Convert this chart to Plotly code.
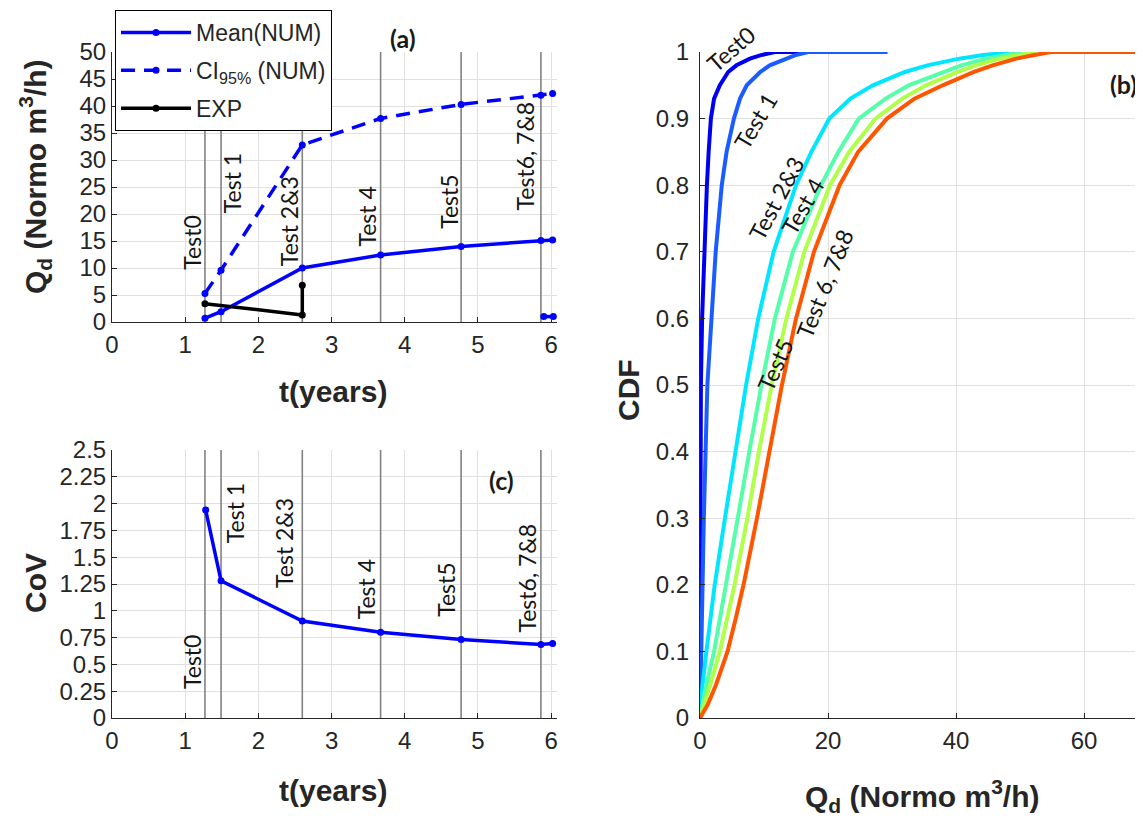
import plotly.graph_objects as go

# page body adds an 8px margin; figure fills the remaining window
OFF = 8
W, H = 1143 - OFF, 820 - OFF

# ---------------- Panel (a) / (c) data ----------------
test_times = [1.27, 1.49, 2.6, 3.67, 4.77, 5.86]
test_labels = ["Test0", "Test 1", "Test 2&3", "Test 4", "Test5", "Test6, 7&8"]

t_num = [1.27, 1.49, 2.6, 3.67, 4.77, 5.86, 6.02]
mean_num = [0.7, 1.9, 10.0, 12.4, 14.0, 15.1, 15.2]
ci95_num = [5.3, 9.6, 32.8, 37.7, 40.3, 42.0, 42.3]
t_low = [5.9, 6.03]
low_num = [1.0, 1.0]
t_exp = [1.27, 2.6, 2.6]
q_exp = [3.4, 1.3, 6.8]

t_cov = [1.28, 1.49, 2.6, 3.67, 4.77, 5.86, 6.02]
cov_num = [1.94, 1.28, 0.905, 0.80, 0.733, 0.686, 0.695]

label_a_t = [1.1, 1.64, 2.42, 3.49, 4.6, 5.64]
label_a_q = [14.6, 25.7, 18.7, 19.6, 22.2, 30.8]
label_c_t = [1.09, 1.68, 2.36, 3.47, 4.57, 5.67]
label_c_v = [0.52, 1.91, 1.63, 1.2, 1.2, 1.31]

a_yticks = [0, 5, 10, 15, 20, 25, 30, 35, 40, 45, 50]
c_yticks = [0, 0.25, 0.5, 0.75, 1, 1.25, 1.5, 1.75, 2, 2.25, 2.5]
c_yticktext = ["0", "0.25", "0.5", "0.75", "1", "1.25", "1.5", "1.75", "2", "2.25", "2.5"]
t_ticks = [0, 1, 2, 3, 4, 5, 6]

# ---------------- Panel (b) data ----------------
cdf_levels = [0, 0.02, 0.05, 0.1, 0.15, 0.2, 0.3, 0.4, 0.5, 0.6, 0.7, 0.8, 0.85,
              0.9, 0.93, 0.95, 0.97, 0.98, 0.99, 0.995, 1.0]
q_test0 = [0, 0.005, 0.01, 0.02, 0.03, 0.04, 0.06, 0.09, 0.14, 0.33, 0.65, 1.08, 1.35,
           1.7, 2.2, 3.1, 4.4, 5.7, 7.8, 9.4, 11.7]
q_test1 = [0, 0.05, 0.12, 0.26, 0.33, 0.4, 0.6, 0.8, 1.15, 1.8, 2.45, 3.4, 4.15,
           5.3, 6.25, 7.3, 9.4, 10.9, 13.3, 14.8, 16.9]
q_test23 = [0, 0.15, 0.4, 1.0, 1.65, 2.3, 3.9, 5.5, 7.2, 9.1, 11.5, 15.0, 17.4,
            20.2, 23.5, 27.0, 32.0, 35.5, 40.5, 44.0, 48.5]
q_test4 = [0, 0.4, 1.0, 2.2, 3.15, 4.1, 5.9, 7.7, 9.6, 11.7, 14.5, 18.9, 21.6,
           24.8, 29.0, 32.6, 37.8, 40.8, 44.7, 47.5, 50.5]
q_test5 = [0, 0.7, 1.6, 3.1, 4.3, 5.4, 7.4, 9.2, 11.2, 13.5, 16.3, 20.3, 23.3,
           27.4, 31.6, 35.3, 40.3, 43.1, 46.8, 49.5, 52.5]
q_test678 = [0, 1.2, 2.5, 4.3, 5.6, 6.8, 8.9, 10.8, 12.8, 15.0, 17.8, 21.8, 24.7,
             29.2, 33.5, 37.9, 42.8, 45.7, 49.4, 52.0, 54.8]
q_tail_end = [16.0, 29.3, 48.5, 50.5, 52.5, 72.0]
cdf_curves = [q_test0, q_test1, q_test23, q_test4, q_test5, q_test678]
cdf_colors = ["#0000f0", "#1a5cff", "#00e6ff", "#55ffaa", "#b0ff4a", "#ff5500"]

b_labels = ["Test0", "Test 1", "Test 2&3", "Test 4", "Test5", "Test 6, 7&8"]
b_label_q = [4.8, 8.6, 11.8, 16.0, 11.7, 19.5]
b_label_p = [1.004, 0.897, 0.780, 0.769, 0.53, 0.653]
b_label_angle = [-41, -59, -62, -60, -66, -68]
b_xticks = [0, 20, 40, 60]
b_yticks = [0, 0.1, 0.2, 0.3, 0.4, 0.5, 0.6, 0.7, 0.8, 0.9, 1]
b_yticktext = ["0", "0.1", "0.2", "0.3", "0.4", "0.5", "0.6", "0.7", "0.8", "0.9", "1"]

# ---------------- Figure ----------------
BLUE = "#0000ff"
TXT = "rgb(38,38,38)"
GRID = "rgb(224,224,224)"
TESTLINE = "rgb(130,130,130)"
TICKFONT = dict(family="Liberation Sans, Arial", size=24, color=TXT)
LABFONT = dict(family="Lato, Carlito, sans-serif", size=23, color="#151515")

fig = go.Figure()


def vlines(times, ytop, xa, ya):
    xs, ys = [], []
    for t in times:
        xs += [t, t, None]
        ys += [0, ytop, None]
    return go.Scatter(x=xs, y=ys, mode="lines", xaxis=xa, yaxis=ya,
                      line=dict(color=TESTLINE, width=1.6), showlegend=False,
                      hoverinfo="skip")


# Panel (a)
fig.add_trace(vlines(test_times, 50, "x", "y"))
fig.add_trace(go.Scatter(x=t_num, y=mean_num, mode="lines+markers", name="Mean(NUM)",
                         legendgroup="m",
                         line=dict(color=BLUE, width=3.5), marker=dict(size=7, color=BLUE),
                         xaxis="x", yaxis="y"))
fig.add_trace(go.Scatter(x=t_num, y=ci95_num, mode="lines+markers", name="CI<sub>95%</sub> (NUM)",
                         legendgroup="c",
                         line=dict(color=BLUE, width=3.5, dash="14px,9px"),
                         marker=dict(size=7, color=BLUE), xaxis="x", yaxis="y"))
fig.add_trace(go.Scatter(x=t_exp, y=q_exp, mode="lines+markers", name="EXP",
                         legendgroup="e",
                         line=dict(color="black", width=3.5), marker=dict(size=7, color="black"),
                         xaxis="x", yaxis="y"))
fig.add_trace(go.Scatter(x=t_low, y=low_num, mode="lines+markers", showlegend=False,
                         line=dict(color=BLUE, width=3.5), marker=dict(size=7, color=BLUE),
                         xaxis="x", yaxis="y"))

# Panel (c)
fig.add_trace(vlines(test_times, 2.5, "x3", "y3"))
fig.add_trace(go.Scatter(x=t_cov, y=cov_num, mode="lines+markers", showlegend=False,
                         line=dict(color=BLUE, width=3.5), marker=dict(size=7, color=BLUE),
                         xaxis="x3", yaxis="y3"))

# Panel (b)
for q, end, col in zip(cdf_curves, q_tail_end, cdf_colors):
    fig.add_trace(go.Scatter(x=q + [end], y=cdf_levels + [1.0], mode="lines", showlegend=False,
                             line=dict(color=col, width=4), xaxis="x2", yaxis="y2"))


def px_x(p):
    return (p - OFF) / W


def px_y(p):
    return 1 - (p - OFF) / H


ax_common = dict(showgrid=True, gridcolor=GRID, gridwidth=1, showline=True, linecolor=TXT,
                 linewidth=1, ticks="inside", ticklen=5, tickcolor=TXT, tickfont=TICKFONT,
                 zeroline=False, mirror=False, automargin=False)

fig.update_layout(
    width=W, height=H, margin=dict(l=0, r=0, t=0, b=0, autoexpand=False),
    paper_bgcolor="white", plot_bgcolor="white",
    xaxis=dict(domain=[px_x(112), px_x(557)], range=[0, 6.08], tickvals=t_ticks,
               anchor="y", ticklabelstandoff=1, **ax_common),
    yaxis=dict(domain=[px_y(322), px_y(52)], range=[0, 50], tickvals=a_yticks,
               anchor="x", ticklabelstandoff=0, **ax_common),
    xaxis3=dict(domain=[px_x(112), px_x(557)], range=[0, 6.08], tickvals=t_ticks,
                anchor="y3", ticklabelstandoff=1, **ax_common),
    yaxis3=dict(domain=[px_y(718), px_y(450)], range=[0, 2.5], tickvals=c_yticks,
                ticktext=c_yticktext, anchor="x3", ticklabelstandoff=0, **ax_common),
    xaxis2=dict(domain=[px_x(700), 1.0], range=[0, 69.2], tickvals=b_xticks,
                anchor="y2", ticklabelstandoff=1, **ax_common),
    yaxis2=dict(domain=[px_y(718), px_y(52)], range=[0, 1], tickvals=b_yticks,
                ticktext=b_yticktext, anchor="x2", ticklabelstandoff=5, **ax_common),
    legend=dict(x=px_x(115), y=px_y(10), xanchor="left", yanchor="top",
                bgcolor="white", bordercolor="black", borderwidth=1,
                font=dict(family="Liberation Sans, Arial", size=23, color=TXT),
                itemwidth=70, tracegroupgap=5),
    showlegend=True,
)

ann = []
for txt, tx, ty in zip(test_labels, label_a_t, label_a_q):
    ann.append(dict(x=tx, y=ty, xref="x", yref="y", text=txt, textangle=-90,
                    xanchor="center", yanchor="middle", showarrow=False, font=LABFONT))
for txt, tx, ty in zip(test_labels, label_c_t, label_c_v):
    ann.append(dict(x=tx, y=ty, xref="x3", yref="y3", text=txt, textangle=-90,
                    xanchor="center", yanchor="middle", showarrow=False, font=LABFONT))
# y range of panel (b) is [0, 1], so "y2 domain" equals the CDF value and is never clipped
for txt, qx, py, ang in zip(b_labels, b_label_q, b_label_p, b_label_angle):
    ann.append(dict(x=qx, y=py, xref="x2", yref="y2 domain", text=txt, textangle=ang,
                    xanchor="center", yanchor="middle", showarrow=False, font=LABFONT))

TITLEFONT = dict(family="Liberation Sans, Arial", size=30, color=TXT)
PANELFONT = dict(family="Lato, Carlito, sans-serif", size=25, color="#1a1a1a")


def pann(text, x, y, font, angle=0):
    return dict(x=px_x(x), y=px_y(y), xref="paper", yref="paper", text=text,
                showarrow=False, font=font, textangle=angle, xanchor="center", yanchor="middle")


ann += [
    pann("<b>Q<sub>d</sub> (Normo m<sup>3</sup>/h)</b>", 35, 177, TITLEFONT, -90),
    pann("<b>t(years)</b>", 333, 391, TITLEFONT),
    pann("<b>CoV</b>", 35, 583, TITLEFONT, -90),
    pann("<b>t(years)</b>", 333, 790, TITLEFONT),
    pann("<b>CDF</b>", 628, 390, TITLEFONT, -90),
    pann("<b>Q<sub>d</sub> (Normo m<sup>3</sup>/h)</b>", 922, 796, TITLEFONT),
    pann("<b>(a)</b>", 403, 38, PANELFONT),
    pann("<b>(c)</b>", 501, 480, PANELFONT),
    pann("<b>(b)</b>", 1123, 84, PANELFONT),
]
fig.update_layout(annotations=ann)

fig.write_html("out.html")
